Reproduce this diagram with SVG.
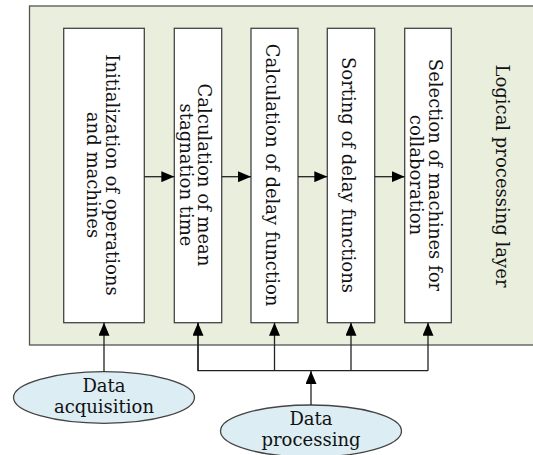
<svg xmlns="http://www.w3.org/2000/svg" width="533" height="455" viewBox="0 0 533 455">
  <style>
    .layer { fill: #e9eedd; stroke: #555; stroke-width: 1.3; }
    .step { fill: #ffffff; stroke: #444; stroke-width: 1.3; }
    .src { fill: #dcedf3; stroke: #444; stroke-width: 1.3; }
    .lbl { font-family: "DejaVu Serif", "Liberation Serif", serif; font-size: 18px; fill: #111; text-anchor: middle; }
    .wire { fill: none; stroke: #222; stroke-width: 1.3; }
  </style>
  <defs>
    <marker id="tip" viewBox="0 0 13 11" refX="13" refY="5.5" markerWidth="13" markerHeight="11" markerUnits="userSpaceOnUse" orient="auto">
      <path d="M0,0 L13,5.5 L0,11 Z" fill="#000"/>
    </marker>
  </defs>

  <!-- processing layer background -->
  <g id="layer">
    <rect class="layer" x="29.5" y="6" width="520" height="339"/>
    <text class="lbl" transform="translate(496,176) rotate(90)">Logical processing layer</text>
  </g>

  <g id="init">
    <rect class="step" x="63.7" y="28.3" width="80.6" height="294.4"/>
    <text class="lbl" transform="translate(106,175) rotate(90)"><tspan x="0" dy="0">Initialization of operations</tspan><tspan x="0" dy="19">and machines</tspan></text>
  </g>

  <g id="mean">
    <rect class="step" x="174.3" y="28.3" width="47.4" height="294.4"/>
    <text class="lbl" transform="translate(198,175) rotate(90)"><tspan x="0" dy="0">Calculation of mean</tspan><tspan x="0" dy="18">stagnation time</tspan></text>
  </g>

  <g id="delay">
    <rect class="step" x="251" y="28.3" width="47" height="294.4"/>
    <text class="lbl" transform="translate(266,175) rotate(90)">Calculation of delay function</text>
  </g>

  <g id="sorting">
    <rect class="step" x="327.3" y="28.3" width="47.4" height="294.4"/>
    <text class="lbl" transform="translate(342,175) rotate(90)">Sorting of delay functions</text>
  </g>

  <g id="selection">
    <rect class="step" x="404.7" y="28.3" width="46.6" height="294.4"/>
    <text class="lbl" transform="translate(428.5,175) rotate(90)"><tspan x="0" dy="0">Selection of machines for</tspan><tspan x="0" dy="19">collaboration</tspan></text>
  </g>

  <g id="acquisition">
    <ellipse class="src" cx="104" cy="397.5" rx="90.5" ry="25.8"/>
    <text class="lbl" x="104" y="391.7">Data</text>
    <text class="lbl" x="104" y="413.3">acquisition</text>
  </g>

  <g id="processing">
    <ellipse class="src" cx="311" cy="431" rx="90.5" ry="26"/>
    <text class="lbl" x="311" y="425">Data</text>
    <text class="lbl" x="311" y="446">processing</text>
  </g>

  <!-- connectors -->
  <g id="connectors">
    <line class="wire" x1="144.3" y1="176.7" x2="174.3" y2="176.7" marker-end="url(#tip)"/>
    <line class="wire" x1="221.7" y1="176.7" x2="251" y2="176.7" marker-end="url(#tip)"/>
    <line class="wire" x1="298" y1="176.7" x2="327.3" y2="176.7" marker-end="url(#tip)"/>
    <line class="wire" x1="374.7" y1="176.7" x2="404.7" y2="176.7" marker-end="url(#tip)"/>

    <line class="wire" x1="104" y1="371.7" x2="104" y2="322.7" marker-end="url(#tip)"/>

    <polyline class="wire" points="198,322.7 198,370.7 428,370.7"/>
    <line class="wire" x1="198" y1="370.7" x2="198" y2="322.7" marker-end="url(#tip)"/>
    <line class="wire" x1="274.5" y1="370.7" x2="274.5" y2="322.7" marker-end="url(#tip)"/>
    <line class="wire" x1="351" y1="370.7" x2="351" y2="322.7" marker-end="url(#tip)"/>
    <line class="wire" x1="428" y1="370.7" x2="428" y2="322.7" marker-end="url(#tip)"/>

    <line class="wire" x1="311" y1="405" x2="311" y2="371" marker-end="url(#tip)"/>
  </g>
</svg>
